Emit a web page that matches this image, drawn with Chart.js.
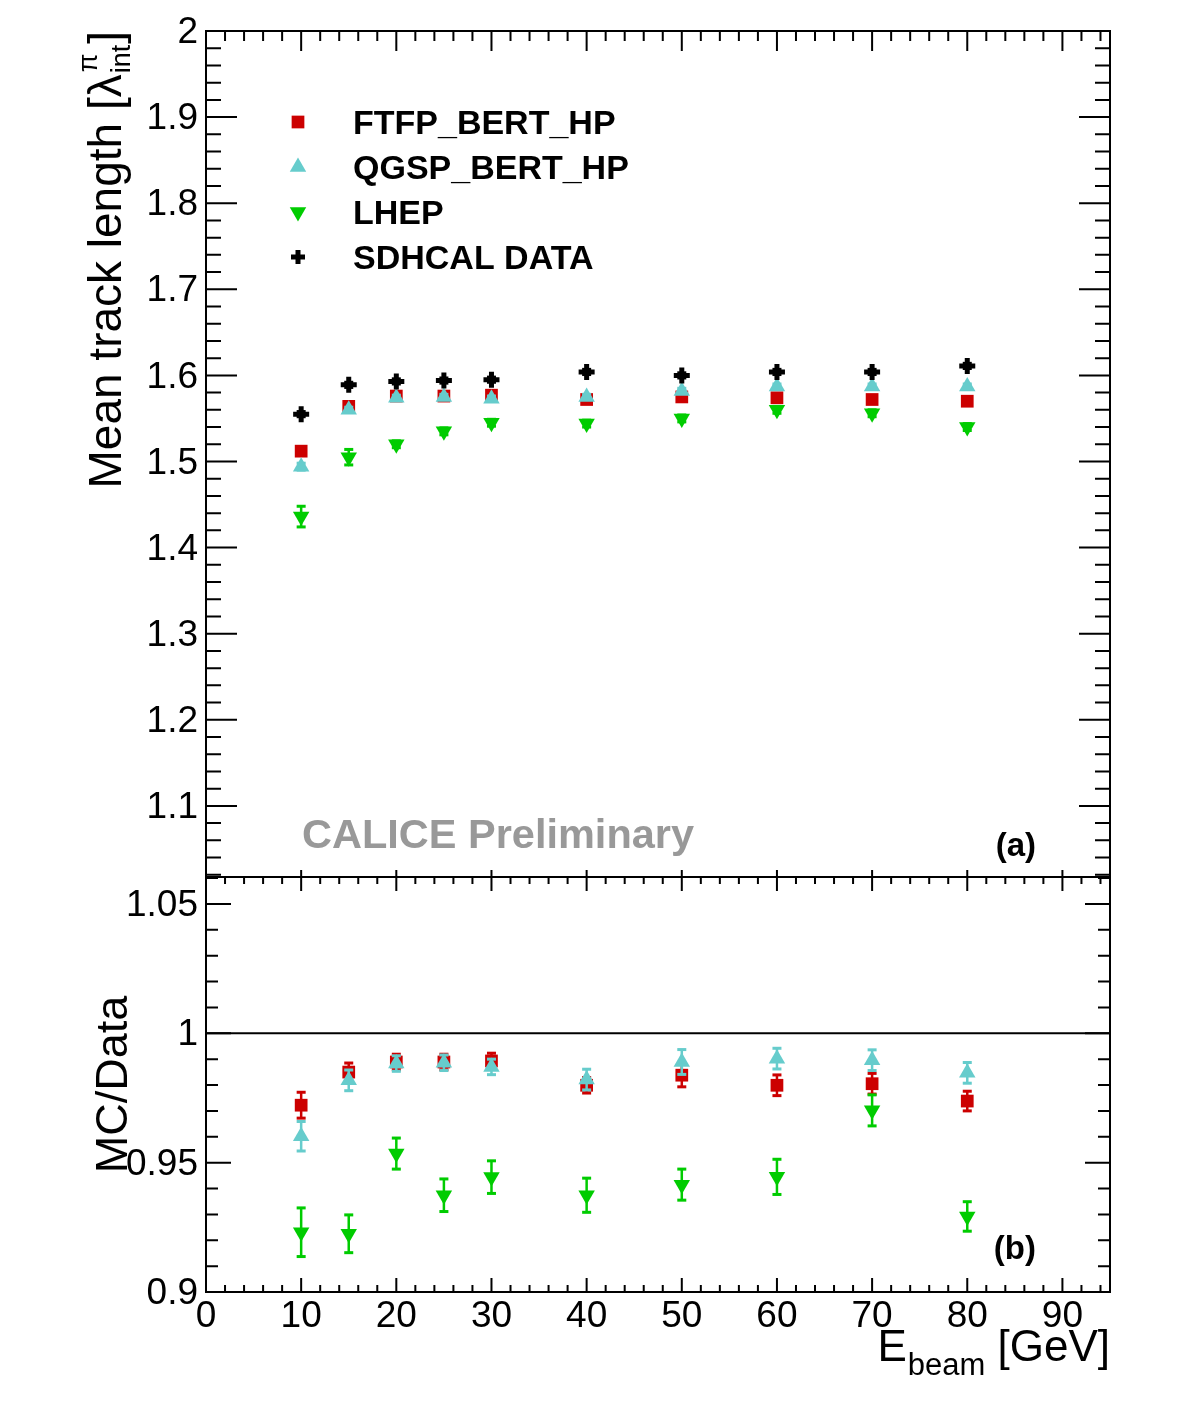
<!DOCTYPE html>
<html>
<head>
<meta charset="utf-8">
<title>Mean track length vs beam energy</title>
<script src="https://cdn.jsdelivr.net/npm/chart.js@4.4.1/dist/chart.umd.min.js"></script>
<style>
  html, body { margin: 0; padding: 0; background: #fff; }
  canvas { display: block; }
</style>
</head>
<body>
<canvas id="chart" width="1182" height="1417"></canvas>
<script>
// beam energies (GeV)
const energies = [10, 15, 20, 25, 30, 40, 50, 60, 70, 80]

// mean track length in lambda_int (panel a)
const dataLength = [1.555, 1.589, 1.593, 1.594, 1.595, 1.604, 1.600, 1.604, 1.604, 1.611]
const ftfpLength = [1.512, 1.564, 1.576, 1.576, 1.577, 1.572, 1.575, 1.574, 1.572, 1.570]
const qgspLength = [1.494, 1.560, 1.574, 1.575, 1.573, 1.575, 1.582, 1.587, 1.587, 1.587]
const lhepLength = [1.436, 1.505, 1.520, 1.535, 1.545, 1.544, 1.550, 1.560, 1.556, 1.540]

const dataLengthErr = [0.003, 0.003, 0.003, 0.003, 0.003, 0.003, 0.003, 0.003, 0.003, 0.003]
const ftfpLengthErr = [0.004, 0.003, 0.003, 0.003, 0.003, 0.003, 0.003, 0.003, 0.003, 0.003]
const qgspLengthErr = [0.004, 0.003, 0.003, 0.003, 0.003, 0.003, 0.003, 0.003, 0.003, 0.003]
const lhepLengthErr = [0.012, 0.009, 0.004, 0.004, 0.004, 0.004, 0.004, 0.004, 0.004, 0.004]

// MC / data ratio (panel b)
const ftfpRatio = [0.9722, 0.9850, 0.9889, 0.9889, 0.9893, 0.9799, 0.9838, 0.9799, 0.9805, 0.9738]
const qgspRatio = [0.9602, 0.9818, 0.9883, 0.9886, 0.9870, 0.9821, 0.9889, 0.9902, 0.9896, 0.9847]
const lhepRatio = [0.9231, 0.9225, 0.9535, 0.9374, 0.9444, 0.9374, 0.9415, 0.9445, 0.9702, 0.9292]

const ftfpRatioErr = [0.0050, 0.0035, 0.0030, 0.0030, 0.0030, 0.0030, 0.0045, 0.0040, 0.0040, 0.0038]
const qgspRatioErr = [0.0057, 0.0040, 0.0030, 0.0030, 0.0030, 0.0040, 0.0048, 0.0040, 0.0040, 0.0040]
const lhepRatioErr = [0.0094, 0.0073, 0.0060, 0.0063, 0.0063, 0.0066, 0.0060, 0.0068, 0.0060, 0.0057]

// axis ticks
const xTicks = [0, 10, 20, 30, 40, 50, 60, 70, 80, 90]
const lengthTicks = [1.1, 1.2, 1.3, 1.4, 1.5, 1.6, 1.7, 1.8, 1.9, 2]
const ratioTicks = [0.9, 0.95, 1, 1.05]

const legendLabels = ["FTFP_BERT_HP", "QGSP_BERT_HP", "LHEP", "SDHCAL DATA"]

const RED = "#cc0000"
const CYAN = "#66cccc"
const GREEN = "#00cc00"
const FONT = '"Liberation Sans", Arial, Helvetica, sans-serif'

function points(values) {
  return energies.map((e, i) => ({ x: e, y: values[i] }))
}

// marker styles, shared by the plot and the legend
const styles = {
  ftfp: { pointStyle: "rect", radius: 9, rotation: 0, color: RED, borderWidth: 0 },
  qgsp: { pointStyle: "triangle", radius: 9.5, rotation: 0, color: CYAN, borderWidth: 0 },
  lhep: { pointStyle: "triangle", radius: 9.5, rotation: 180, color: GREEN, borderWidth: 0 },
  data: { pointStyle: "cross", radius: 8, rotation: 0, color: "#000", borderWidth: 5 },
}

function makeDataset(label, values, errors, st, axis) {
  return {
    label: label,
    data: points(values),
    errors: errors,
    yAxisID: axis,
    pointStyle: st.pointStyle,
    pointRadius: st.radius,
    pointRotation: st.rotation,
    pointBackgroundColor: st.color,
    pointBorderColor: st.color,
    pointBorderWidth: st.borderWidth,
    pointHoverRadius: st.radius,
    showLine: false,
  }
}

// ROOT-like error bars with small caps, drawn just before each graph
const errorBars = {
  id: "errorBars",
  beforeDatasetDraw(chart, args) {
    const ds = chart.data.datasets[args.index]
    if (!ds.errors) return
    const ctx = chart.ctx
    const xs = chart.scales.x
    const ys = chart.scales[ds.yAxisID]
    ctx.save()
    ctx.fillStyle = ds.pointBackgroundColor
    ds.data.forEach((p, i) => {
      const px = xs.getPixelForValue(p.x)
      const lo = ys.getPixelForValue(p.y - ds.errors[i])
      const hi = ys.getPixelForValue(p.y + ds.errors[i])
      ctx.fillRect(px - 1.25, hi, 2.5, lo - hi)
      ctx.fillRect(px - 4.5, hi - 1.5, 9, 3)
      ctx.fillRect(px - 4.5, lo - 1.5, 9, 3)
    })
    ctx.restore()
  },
}

function tickValues(min, max, step) {
  const out = []
  for (let k = Math.ceil(min / step - 1e-6); k * step <= max + 1e-6; k++) out.push(k * step)
  return out
}

function drawPanel(ctx, xs, ys, opt) {
  const left = xs.left, right = xs.right
  const top = ys.top, bottom = ys.bottom
  ctx.lineWidth = 2
  ctx.beginPath()
  // y ticks on both sides
  tickValues(ys.min, ys.max, opt.yMinor).forEach((v) => {
    const py = ys.getPixelForValue(v)
    const major = opt.yMajor.some((m) => Math.abs(m - v) < 1e-6)
    const len = major ? opt.yLen[0] : opt.yLen[1]
    ctx.moveTo(left, py); ctx.lineTo(left + len, py)
    ctx.moveTo(right, py); ctx.lineTo(right - len, py)
  })
  // x ticks on top and bottom edges
  tickValues(xs.min, xs.max, 2).forEach((v) => {
    const px = xs.getPixelForValue(v)
    const major = xTicks.includes(v)
    const lt = major ? opt.xTopLen[0] : opt.xTopLen[1]
    const lb = major ? opt.xBotLen[0] : opt.xBotLen[1]
    if (lt > 0) { ctx.moveTo(px, top); ctx.lineTo(px, top + lt) }
    if (lb > 0) { ctx.moveTo(px, bottom); ctx.lineTo(px, bottom - lb) }
  })
  ctx.stroke()
  ctx.strokeRect(left, top, right - left, bottom - top)
}

const decorations = {
  id: "decorations",
  afterDatasetsDraw(chart) {
    const ctx = chart.ctx
    const xs = chart.scales.x
    const yT = chart.scales.yTop
    const yB = chart.scales.yBot
    ctx.save()
    ctx.strokeStyle = "#000"

    // reference line at ratio = 1
    ctx.lineWidth = 2
    ctx.beginPath()
    const y1 = yB.getPixelForValue(1)
    ctx.moveTo(xs.left, y1); ctx.lineTo(xs.right, y1)
    ctx.stroke()

    drawPanel(ctx, xs, yT, { yMajor: lengthTicks, yMinor: 0.02, yLen: [31, 15], xTopLen: [20, 10], xBotLen: [7, 0] })
    drawPanel(ctx, xs, yB, { yMajor: ratioTicks, yMinor: 0.01, yLen: [25, 12], xTopLen: [14, 7], xBotLen: [14, 7] })

    // legend
    const order = [styles.ftfp, styles.qgsp, styles.lhep, styles.data]
    const rows = [122, 167, 212, 257]
    order.forEach((st, i) => {
      ctx.fillStyle = st.color
      ctx.strokeStyle = st.color
      ctx.lineWidth = st.borderWidth || 1
      const r = st.pointStyle === "cross" ? 7 : st.radius
      Chart.helpers.drawPoint(ctx, { pointStyle: st.pointStyle, rotation: st.rotation, radius: r, borderWidth: st.borderWidth }, 298, rows[i])
      ctx.fillStyle = "#000"
      ctx.font = "bold 34px " + FONT
      ctx.textAlign = "left"
      ctx.textBaseline = "alphabetic"
      ctx.fillText(legendLabels[i], 353, rows[i] + 12)
    })

    // labels inside the panels
    ctx.fillStyle = "#999999"
    ctx.font = "bold 41.5px " + FONT
    ctx.fillText("CALICE Preliminary", 302, 848)
    ctx.fillStyle = "#000"
    ctx.font = "bold 33px " + FONT
    ctx.textAlign = "right"
    ctx.fillText("(a)", 1036, 856)
    ctx.fillText("(b)", 1036, 1259)

    // y title, panel a: Mean track length [lambda_int^pi]
    ctx.save()
    ctx.translate(121, 31)
    ctx.rotate(-Math.PI / 2)
    ctx.textAlign = "left"
    const big = "46px " + FONT
    const small = "27px " + FONT
    ctx.font = big
    const main = "Mean track length [\u03bb"
    const wMain = ctx.measureText(main).width
    const wClose = ctx.measureText("]").width
    ctx.font = small
    const wSub = Math.max(ctx.measureText("int").width, ctx.measureText("\u03c0").width)
    let x0 = -(wMain + wSub + wClose + 2)
    ctx.font = big
    ctx.fillText(main, x0, 0)
    ctx.font = small
    ctx.fillText("int", x0 + wMain + 1, 9)
    ctx.fillText("\u03c0", x0 + wMain + 2, -24)
    ctx.font = big
    ctx.fillText("]", x0 + wMain + wSub + 2, 0)
    ctx.restore()

    // y title, panel b
    ctx.save()
    ctx.translate(127, (yB.top + yB.bottom) / 2)
    ctx.rotate(-Math.PI / 2)
    ctx.font = "45px " + FONT
    ctx.textAlign = "center"
    ctx.fillText("MC/Data", 0, 0)
    ctx.restore()

    // x title: E_beam [GeV]
    ctx.textAlign = "left"
    ctx.font = "44px " + FONT
    const wUnit = ctx.measureText(" [GeV]").width
    const wE = ctx.measureText("E").width
    ctx.font = "31px " + FONT
    const wBeam = ctx.measureText("beam").width
    let xt = xs.right - wUnit - wBeam - wE - 1
    ctx.font = "44px " + FONT
    ctx.fillText("E", xt, 1361)
    ctx.font = "31px " + FONT
    ctx.fillText("beam", xt + wE + 1, 1375)
    ctx.font = "44px " + FONT
    ctx.fillText(" [GeV]", xt + wE + wBeam + 1, 1361)

    ctx.restore()
  },
}

const tickFont = { family: FONT, size: 37 }

new Chart(document.getElementById("chart"), {
  type: "scatter",
  data: {
    // listed so that data ends up on top, as in the original
    datasets: [
      makeDataset("SDHCAL DATA", dataLength, dataLengthErr, styles.data, "yTop"),
      makeDataset("LHEP", lhepLength, lhepLengthErr, styles.lhep, "yTop"),
      makeDataset("QGSP_BERT_HP", qgspLength, qgspLengthErr, styles.qgsp, "yTop"),
      makeDataset("FTFP_BERT_HP", ftfpLength, ftfpLengthErr, styles.ftfp, "yTop"),
      makeDataset("LHEP / data", lhepRatio, lhepRatioErr, styles.lhep, "yBot"),
      makeDataset("QGSP / data", qgspRatio, qgspRatioErr, styles.qgsp, "yBot"),
      makeDataset("FTFP / data", ftfpRatio, ftfpRatioErr, styles.ftfp, "yBot"),
    ],
  },
  options: {
    responsive: false,
    animation: false,
    events: [],
    layout: { padding: { top: 31, right: 72, left: 0, bottom: 0 } },
    plugins: { legend: { display: false }, tooltip: { enabled: false } },
    scales: {
      x: {
        type: "linear",
        position: "bottom",
        min: 0,
        max: 95,
        afterBuildTicks: (s) => { s.ticks = xTicks.map((v) => ({ value: v })) },
        afterFit: (s) => { s.height = 125 },
        grid: { display: false, drawTicks: false },
        border: { display: false },
        ticks: { autoSkip: false, maxRotation: 0, padding: 3, color: "#000", font: tickFont, callback: (v) => String(v) },
      },
      yBot: {
        type: "linear",
        position: "left",
        stack: "panels",
        stackWeight: 415,
        min: 0.9,
        max: 1.0604,
        afterBuildTicks: (s) => { s.ticks = ratioTicks.map((v) => ({ value: v })) },
        afterFit: (s) => { s.width = 206 },
        grid: { display: false, drawTicks: false },
        border: { display: false },
        ticks: { autoSkip: false, padding: 8, labelOffset: 2, color: "#000", font: tickFont, callback: (v) => String(v) },
      },
      yTop: {
        type: "linear",
        position: "left",
        stack: "panels",
        stackWeight: 846,
        min: 1.0174,
        max: 2,
        afterBuildTicks: (s) => { s.ticks = lengthTicks.map((v) => ({ value: v })) },
        afterFit: (s) => { s.width = 206 },
        grid: { display: false, drawTicks: false },
        border: { display: false },
        ticks: { autoSkip: false, padding: 8, labelOffset: 2, color: "#000", font: tickFont, callback: (v) => String(v) },
      },
    },
  },
  plugins: [errorBars, decorations],
})
</script>
</body>
</html>
